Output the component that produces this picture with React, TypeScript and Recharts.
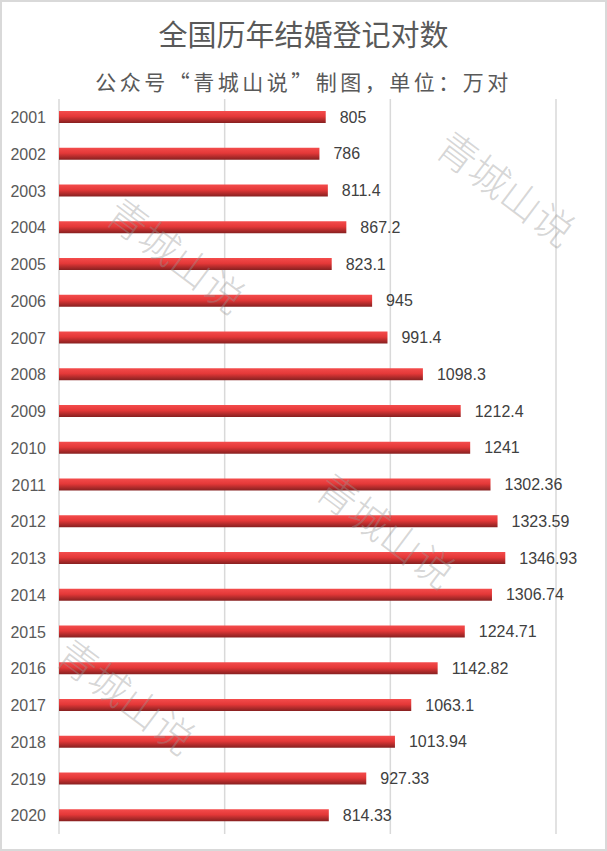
import React from "react";
import { Bar, BarChart, CartesianGrid, LabelList, XAxis, YAxis } from "recharts";

// 年份与结婚登记对数（万对）
const years = [
  "2001", "2002", "2003", "2004", "2005", "2006", "2007", "2008", "2009", "2010",
  "2011", "2012", "2013", "2014", "2015", "2016", "2017", "2018", "2019", "2020",
];
const pairs = [
  805, 786, 811.4, 867.2, 823.1, 945, 991.4, 1098.3, 1212.4, 1241,
  1302.36, 1323.59, 1346.93, 1306.74, 1224.71, 1142.82, 1063.1, 1013.94, 927.33, 814.33,
];
const xTicks = [0, 500, 1000, 1500];

const title = "全国历年结婚登记对数";
const subtitle = "公众号“青城山说”制图，单位：万对";
const watermark = "青城山说";

const data = years.map((year, i) => ({ year, value: pairs[i] }));

const cjk = '"Noto Sans CJK SC", "Noto Sans", sans-serif';
const latin = '"Liberation Sans", sans-serif';

// centres of the watermark stamps
const marks = [
  { x: 507, y: 187 },
  { x: 177, y: 254 },
  { x: 387, y: 529 },
  { x: 127, y: 695 },
];

export default function App() {
  return (
    <div
      style={{
        position: "absolute",
        left: 0,
        top: 0,
        width: 607,
        height: 851,
        background: "#fff",
        boxSizing: "border-box",
        border: "2px solid #d9d9d9",
        overflow: "hidden",
      }}
    >
      <div
        style={{
          position: "absolute",
          top: 13,
          left: 0,
          width: 603,
          textAlign: "center",
          fontFamily: cjk,
          fontSize: 29,
          lineHeight: "36px",
          color: "#595959",
        }}
      >
        {title}
      </div>
      <div
        style={{
          position: "absolute",
          top: 64,
          left: 0,
          width: 603,
          textAlign: "center",
          fontFamily: cjk,
          fontSize: 21,
          letterSpacing: 3.5,
          lineHeight: "30px",
          color: "#595959",
        }}
      >
        {subtitle}
      </div>

      <div style={{ position: "absolute", left: -2, top: -2 }}>
        <BarChart
          width={607}
          height={851}
          data={data}
          layout="vertical"
          margin={{ top: 99, right: 51, left: 9, bottom: 17 }}
          barSize={12}
        >
          <defs>
            <linearGradient id="barFill" x1="0" y1="0" x2="0" y2="1">
              <stop offset="0%" stopColor="#f44c4c" />
              <stop offset="45%" stopColor="#e43838" />
              <stop offset="100%" stopColor="#862020" />
            </linearGradient>
          </defs>
          <CartesianGrid horizontal={false} stroke="#d9d9d9" strokeWidth={1.5} />
          <XAxis type="number" domain={[0, 1500]} ticks={xTicks} hide />
          <YAxis
            type="category"
            dataKey="year"
            width={50}
            tickLine={false}
            axisLine={false}
            tickMargin={7}
            tick={{ fill: "#595959", fontSize: 16, fontFamily: latin }}
          />
          <Bar dataKey="value" fill="url(#barFill)" isAnimationActive={false}>
            <LabelList
              dataKey="value"
              position="right"
              offset={14}
              fill="#404040"
              fontSize={16}
              fontFamily={latin}
            />
          </Bar>
        </BarChart>
      </div>

      {marks.map((m, i) => (
        <div
          key={i}
          style={{
            position: "absolute",
            left: m.x - 2,
            top: m.y - 2,
            transform: "translate(-50%, -50%) rotate(37deg)",
            fontFamily: cjk,
            fontSize: 40,
            fontWeight: 300,
            lineHeight: "44px",
            color: "rgba(150,150,150,0.4)",
            whiteSpace: "nowrap",
            pointerEvents: "none",
          }}
        >
          {watermark}
        </div>
      ))}
    </div>
  );
}
